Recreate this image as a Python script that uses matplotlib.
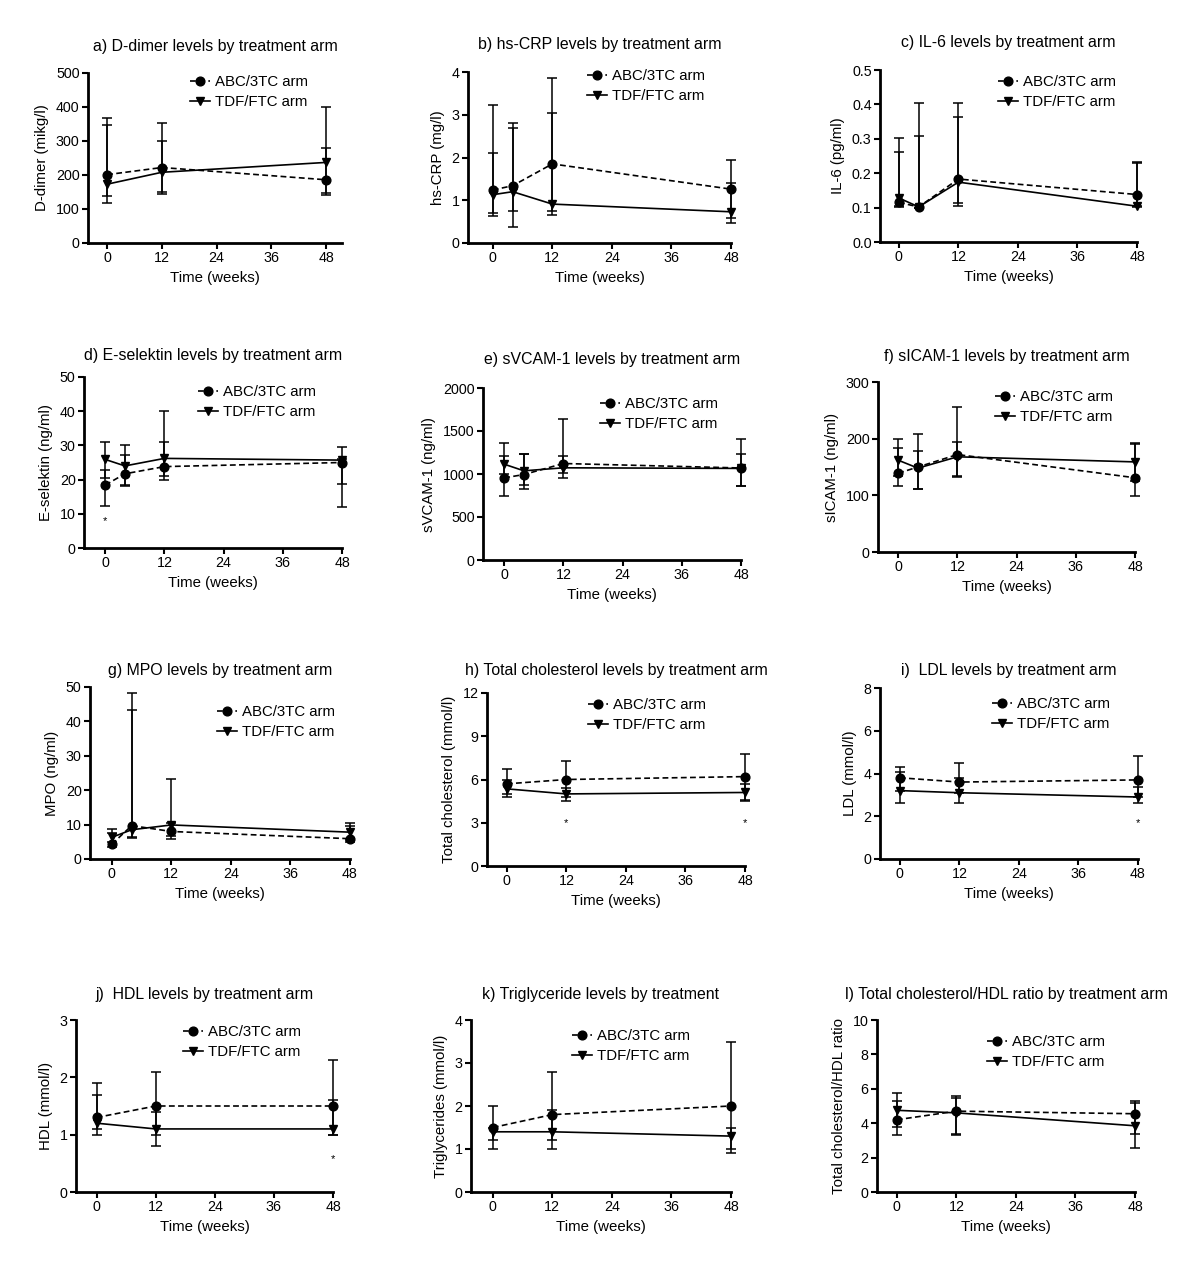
import matplotlib
matplotlib.use("Agg")
import matplotlib.pyplot as plt

plt.rcParams["font.family"] = ["Liberation Sans", "DejaVu Sans"]

W, H = 1200, 1272

x4 = [0, 4, 12, 48]
x3 = [0, 12, 48]

# a) D-dimer
ddimer_abc = [201, 222, 186]
ddimer_abc_lo = [137, 150, 147]
ddimer_abc_hi = [368, 353, 279]
ddimer_tdf = [173, 208, 237]
ddimer_tdf_lo = [118, 145, 141]
ddimer_tdf_hi = [348, 301, 399]

# b) hs-CRP
crp_abc = [1.24, 1.34, 1.85, 1.26]
crp_abc_lo = [0.71, 0.74, 0.74, 0.58]
crp_abc_hi = [3.22, 2.81, 3.86, 1.95]
crp_tdf = [1.13, 1.20, 0.91, 0.73]
crp_tdf_lo = [0.64, 0.37, 0.66, 0.47]
crp_tdf_hi = [2.10, 2.70, 3.03, 1.41]

# c) IL-6
il6_abc = [0.115, 0.102, 0.183, 0.138]
il6_abc_lo = [0.105, 0.100, 0.112, 0.104]
il6_abc_hi = [0.301, 0.403, 0.403, 0.232]
il6_tdf = [0.128, 0.102, 0.174, 0.104]
il6_tdf_lo = [0.102, 0.100, 0.104, 0.102]
il6_tdf_hi = [0.262, 0.309, 0.362, 0.230]

# d) E-selektin
esel_abc = [18.4, 21.7, 23.8, 25.0]
esel_abc_lo = [12.4, 18.5, 20.0, 12.1]
esel_abc_hi = [22.8, 27.2, 31.1, 26.0]
esel_tdf = [25.9, 24.0, 26.2, 25.7]
esel_tdf_lo = [20.6, 18.0, 21.0, 18.7]
esel_tdf_hi = [30.9, 30.1, 40.0, 29.6]

# e) sVCAM-1
svcam_abc = [955, 994, 1122, 1070]
svcam_abc_lo = [747, 830, 1006, 863]
svcam_abc_hi = [1211, 1238, 1636, 1404]
svcam_tdf = [1114, 1037, 1072, 1065]
svcam_tdf_lo = [1000, 870, 948, 863]
svcam_tdf_hi = [1362, 1230, 1211, 1238]

# f) sICAM-1
sicam_abc = [139, 150, 172, 131]
sicam_abc_lo = [116, 111, 135, 98]
sicam_abc_hi = [184, 178, 256, 191]
sicam_tdf = [162, 148, 168, 159]
sicam_tdf_lo = [135, 111, 132, 125]
sicam_tdf_hi = [200, 208, 194, 192]

# g) MPO
mpo_abc = [4.3, 9.7, 8.0, 5.9]
mpo_abc_lo = [3.6, 6.3, 6.6, 4.8]
mpo_abc_hi = [7.7, 48.3, 10.5, 9.7]
mpo_tdf = [6.3, 8.5, 9.9, 7.8]
mpo_tdf_lo = [5.0, 6.0, 5.8, 5.6]
mpo_tdf_hi = [8.8, 43.4, 23.3, 10.6]

# h) Total cholesterol
tc_abc = [5.7, 6.0, 6.2]
tc_abc_lo = [5.0, 4.8, 4.6]
tc_abc_hi = [6.7, 7.25, 7.8]
tc_tdf = [5.35, 5.0, 5.1]
tc_tdf_lo = [4.8, 4.5, 4.5]
tc_tdf_hi = [6.0, 5.4, 5.7]

# i) LDL
ldl_abc = [3.8, 3.6, 3.7]
ldl_abc_lo = [3.2, 3.1, 2.9]
ldl_abc_hi = [4.3, 4.5, 4.8]
ldl_tdf = [3.2, 3.1, 2.9]
ldl_tdf_lo = [2.6, 2.6, 2.6]
ldl_tdf_hi = [4.05, 3.8, 3.35]

# j) HDL
hdl_abc = [1.3, 1.5, 1.5]
hdl_abc_lo = [1.1, 1.0, 1.0]
hdl_abc_hi = [1.9, 2.1, 2.3]
hdl_tdf = [1.2, 1.1, 1.1]
hdl_tdf_lo = [1.0, 0.8, 1.0]
hdl_tdf_hi = [1.7, 1.4, 1.6]

# k) Triglycerides
tg_abc = [1.5, 1.8, 2.0]
tg_abc_lo = [1.2, 1.2, 1.0]
tg_abc_hi = [2.0, 2.8, 3.5]
tg_tdf = [1.4, 1.4, 1.3]
tg_tdf_lo = [1.0, 1.0, 0.9]
tg_tdf_hi = [1.5, 1.9, 1.5]

# l) TC/HDL ratio
ratio_abc = [4.2, 4.7, 4.55]
ratio_abc_lo = [3.3, 3.4, 3.36]
ratio_abc_hi = [5.3, 5.57, 5.3]
ratio_tdf = [4.75, 4.6, 3.85]
ratio_tdf_lo = [3.8, 3.34, 2.56]
ratio_tdf_hi = [5.73, 5.44, 5.15]

panels = [
    # title, ylabel, x, abc, tdf, yticks, box(px: l,t,r,b), xmin, xmax, title_y, legend(px: x,y), stars
    ("a) D-dimer levels by treatment arm", "D-dimer (mikg/l)", x3,
     (ddimer_abc, ddimer_abc_lo, ddimer_abc_hi), (ddimer_tdf, ddimer_tdf_lo, ddimer_tdf_hi),
     [0, 100, 200, 300, 400, 500], (88, 73, 342, 243), -4.2, 51.5, 47, (190, 83), []),
    ("b) hs-CRP levels by treatment arm", "hs-CRP (mg/l)", x4,
     (crp_abc, crp_abc_lo, crp_abc_hi), (crp_tdf, crp_tdf_lo, crp_tdf_hi),
     [0, 1, 2, 3, 4], (468, 72, 731, 243), -5.0, 48, 45, (587, 77), []),
    ("c) IL-6 levels by treatment arm", "IL-6 (pg/ml)", x4,
     (il6_abc, il6_abc_lo, il6_abc_hi), (il6_tdf, il6_tdf_lo, il6_tdf_hi),
     [0.0, 0.1, 0.2, 0.3, 0.4, 0.5], (880, 70, 1137, 242), -3.8, 48, 43, (998, 83), []),
    ("d) E-selektin levels by treatment arm", "E-selektin (ng/ml)", x4,
     (esel_abc, esel_abc_lo, esel_abc_hi), (esel_tdf, esel_tdf_lo, esel_tdf_hi),
     [0, 10, 20, 30, 40, 50], (84, 377, 342, 548), -4.3, 48, 355, (198, 393), [(0, 7.8)]),
    ("e) sVCAM-1 levels by treatment arm", "sVCAM-1 (ng/ml)", x4,
     (svcam_abc, svcam_abc_lo, svcam_abc_hi), (svcam_tdf, svcam_tdf_lo, svcam_tdf_hi),
     [0, 500, 1000, 1500, 2000], (483, 388, 741, 560), -4.3, 48, 360, (600, 405), []),
    ("f) sICAM-1 levels by treatment arm", "sICAM-1 (ng/ml)", x4,
     (sicam_abc, sicam_abc_lo, sicam_abc_hi), (sicam_tdf, sicam_tdf_lo, sicam_tdf_hi),
     [0, 100, 200, 300], (878, 382, 1135, 552), -4.1, 48, 357, (995, 398), []),
    ("g) MPO levels by treatment arm", "MPO (ng/ml)", x4,
     (mpo_abc, mpo_abc_lo, mpo_abc_hi), (mpo_tdf, mpo_tdf_lo, mpo_tdf_hi),
     [0, 10, 20, 30, 40, 50], (90, 687, 350, 859), -4.4, 48, 670, (217, 713), []),
    ("h) Total cholesterol levels by treatment arm", "Total cholesterol (mmol/l)", x3,
     (tc_abc, tc_abc_lo, tc_abc_hi), (tc_tdf, tc_tdf_lo, tc_tdf_hi),
     [0, 3, 6, 9, 12], (487, 693, 745, 866), -4.0, 48, 670, (588, 706), [(12, 3.0), (48, 3.0)]),
    ("i)  LDL levels by treatment arm", "LDL (mmol/l)", x3,
     (ldl_abc, ldl_abc_lo, ldl_abc_hi), (ldl_tdf, ldl_tdf_lo, ldl_tdf_hi),
     [0, 2, 4, 6, 8], (880, 688, 1138, 859), -4.0, 48, 670, (992, 705), [(48, 1.7)]),
    ("j)  HDL levels by treatment arm", "HDL (mmol/l)", x3,
     (hdl_abc, hdl_abc_lo, hdl_abc_hi), (hdl_tdf, hdl_tdf_lo, hdl_tdf_hi),
     [0, 1, 2, 3], (76, 1020, 333, 1192), -4.2, 48, 995, (183, 1033), [(48, 0.58)]),
    ("k) Triglyceride levels by treatment", "Triglycerides (mmol/l)", x3,
     (tg_abc, tg_abc_lo, tg_abc_hi), (tg_tdf, tg_tdf_lo, tg_tdf_hi),
     [0, 1, 2, 3, 4], (471, 1020, 731, 1192), -4.4, 48, 995, (572, 1037), []),
    ("l) Total cholesterol/HDL ratio by treatment arm", "Total cholesterol/HDL ratio", x3,
     (ratio_abc, ratio_abc_lo, ratio_abc_hi), (ratio_tdf, ratio_tdf_lo, ratio_tdf_hi),
     [0, 2, 4, 6, 8, 10], (877, 1020, 1135, 1192), -4.0, 48, 995, (987, 1043), []),
]

fig = plt.figure(figsize=(W / 100, H / 100), dpi=100)

for (title, ylabel, xs, abc, tdf, yticks, box, xmin, xmax, ty, leg, stars) in panels:
    l, t, r, b = box
    ax = fig.add_axes([l / W, 1 - b / H, (r - l) / W, (b - t) / H])

    for mean, lo, hi in (abc, tdf):
        yerr = [[m - a for m, a in zip(mean, lo)], [c - m for m, c in zip(mean, hi)]]
        ax.errorbar(xs, mean, yerr=yerr, fmt="none", ecolor="black",
                    elinewidth=1.1, capsize=3.6, capthick=1.1, clip_on=False)
    ax.plot(xs, abc[0], color="black", linestyle=(0, (3.5, 2)), linewidth=1.2,
            marker="o", markersize=6.3, label="ABC/3TC arm", clip_on=False, zorder=3)
    ax.plot(xs, tdf[0], color="black", linestyle="-", linewidth=1.2,
            marker="v", markersize=6.3, label="TDF/FTC arm", clip_on=False, zorder=3)

    for sx, sy in stars:
        ax.text(sx, sy, "*", ha="center", va="center", fontsize=8)

    ax.set_xlim(xmin, xmax)
    ax.set_ylim(yticks[0], yticks[-1])
    ax.set_xticks([0, 12, 24, 36, 48])
    ax.set_yticks(yticks)
    if isinstance(yticks[1], float):
        ax.set_yticklabels([f"{v:.1f}" for v in yticks])
    for s in ("top", "right"):
        ax.spines[s].set_visible(False)
    for s in ("left", "bottom"):
        ax.spines[s].set_linewidth(2.0)
    ax.tick_params(axis="both", direction="out", length=4, width=1.5,
                   labelsize=10.3, pad=2)
    ax.set_xlabel("Time (weeks)", fontsize=10.8, labelpad=4)
    ax.set_ylabel(ylabel, fontsize=10.8, labelpad=5)

    fig.text(((l + r) / 2) / W, 1 - ty / H, title, ha="center", va="center",
             fontsize=11.4)

    ax.legend(loc="upper left", bbox_to_anchor=(leg[0] / W, 1 - (leg[1] - 8) / H),
              bbox_transform=fig.transFigure, frameon=False, fontsize=10.8,
              handlelength=1.3, handletextpad=0.35, labelspacing=0.4,
              borderpad=0, borderaxespad=0, numpoints=1)

fig.savefig("out.png", dpi=100, facecolor="white")
